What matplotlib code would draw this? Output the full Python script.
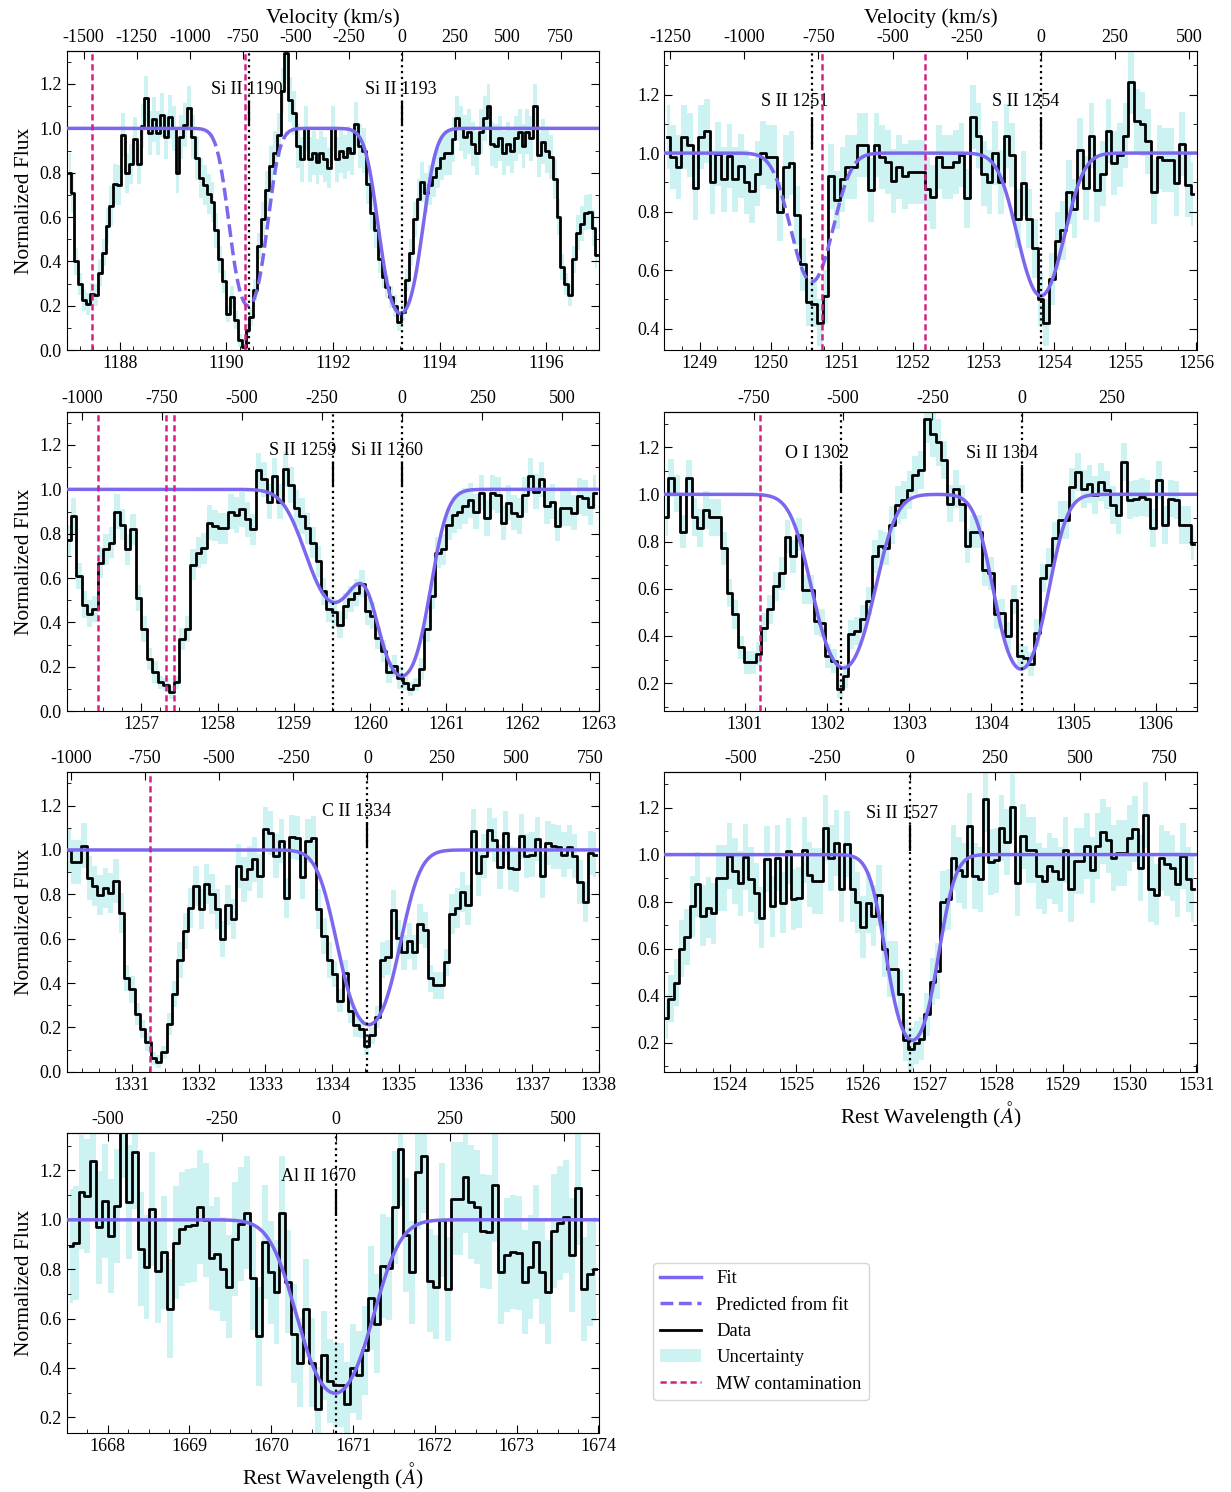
import numpy as np
import matplotlib
matplotlib.use("Agg")
import matplotlib.pyplot as plt
from matplotlib.ticker import MultipleLocator
from matplotlib.lines import Line2D
from matplotlib.patches import Patch

C_KMS = 299792.458

# ---------------------------------------------------------------------------
# values (flux normalised, errors in hundredths)
# ---------------------------------------------------------------------------

# panel 1 : Si II 1190 / 1193
si1193_range = (1187.0, 1197.0)
si1193_flux = [0.80, 0.71, 0.40, 0.30, 0.225, 0.21, 0.255, 0.25, 0.35, 0.44,
               0.56, 0.65, 0.75, 0.745, 0.97, 0.80, 0.84, 0.95, 0.84, 1.01,
               1.135, 0.98, 1.04, 0.98, 1.06, 0.96, 1.05, 1.00, 0.80, 0.96,
               1.015, 1.09, 0.96, 0.865, 0.775, 0.745, 0.705, 0.67, 0.54, 0.41,
               0.31, 0.165, 0.24, 0.135, 0.045, 0.015, 0.09, 0.15, 0.27, 0.47,
               0.59, 0.72, 0.83, 0.89, 0.97, 1.17, 1.34, 1.13, 1.07, 0.92,
               0.86, 1.00, 0.86, 0.89, 0.85, 0.89, 0.86, 0.82, 1.00, 0.86,
               0.90, 0.87, 0.91, 0.89, 1.02, 0.92, 0.90, 0.75, 0.62, 0.54,
               0.41, 0.33, 0.285, 0.24, 0.20, 0.125, 0.17, 0.315, 0.44, 0.59,
               0.68, 0.76, 0.71, 0.745, 0.78, 0.82, 0.865, 0.89, 0.89, 0.95,
               1.045, 1.00, 0.96, 0.985, 0.93, 0.89, 0.985, 1.045, 1.10, 0.93,
               0.92, 0.955, 0.89, 0.93, 0.90, 0.955, 0.985, 0.92, 0.985, 0.955,
               1.10, 0.88, 0.94, 0.90, 0.87, 0.77, 0.60, 0.375, 0.30, 0.25,
               0.41, 0.53, 0.57, 0.62, 0.625, 0.55, 0.43]
si1193_err = [9, 9, 6, 5, 5, 5, 5, 5, 6, 6, 8, 9, 9, 9, 10, 9, 9, 10, 9, 10,
              10, 10, 10, 10, 10, 10, 10, 10, 9, 10, 10, 10, 10, 10, 9, 9, 9, 9, 8, 6,
              5, 4, 5, 4, 3, 3, 3, 4, 5, 6, 8, 9, 9, 10, 10, 10, 12, 10, 10, 10,
              10, 10, 10, 10, 10, 10, 10, 9, 10, 10, 10, 10, 10, 10, 10, 10, 10, 9, 8, 8,
              6, 5, 5, 5, 5, 4, 4, 5, 6, 8, 9, 9, 9, 9, 9, 9, 10, 10, 10, 10,
              10, 10, 10, 10, 10, 10, 10, 10, 10, 10, 10, 10, 10, 10, 10, 10, 10, 10, 10, 10,
              10, 10, 10, 10, 10, 9, 8, 6, 5, 5, 6, 8, 8, 8, 8, 8, 6]
si1193_lines = [1190.4158, 1193.2897]
si1193_names = ["Si II 1190", "Si II 1193"]
si1193_mw = [1187.47, 1190.34]
si1193_fit_center = [1190.41, 1193.27]
si1193_fit_tau = [1.61, 1.80]
si1193_fit_sigma = [0.25, 0.28]

# panel 2 : S II 1251 / 1254
s1254_range = (1248.5, 1256.0)
s1254_flux = [1.056, 0.987, 0.953, 1.056, 1.027, 0.88, 1.056, 1.075, 0.90, 0.997,
              0.91, 0.99, 0.91, 0.955, 0.90, 0.87, 0.93, 1.0, 0.987, 0.987,
              0.80, 0.953, 0.965, 0.787, 0.62, 0.49, 0.485, 0.42, 0.51, 0.92,
              0.84, 0.91, 0.953, 0.953, 1.027, 1.027, 0.873, 1.027, 0.987, 0.97,
              0.904, 0.953, 0.92, 0.936, 0.936, 0.936, 0.877,
              0.85, 0.987, 0.953, 0.953, 0.97, 0.993, 0.845, 1.124, 1.06, 0.93,
              0.90, 1.0, 0.90, 1.059, 0.993, 0.776, 0.896, 0.776, 0.674, 0.50,
              0.42, 0.57, 0.70, 0.736, 0.868, 0.81, 1.01, 0.88, 1.06, 0.873,
              0.93, 1.075, 0.965, 0.993, 1.06, 1.244, 1.11, 1.10, 1.04, 0.868,
              0.987, 0.976, 0.976, 0.896, 1.03, 0.89, 0.86]
s1254_err = [11, 11, 11, 11, 11, 11, 11, 11, 11, 11, 11, 11, 11, 11, 11, 11, 11, 11, 11, 11,
             10, 11, 11, 10, 9, 8, 8, 8, 9, 11, 10, 11, 11, 11, 11, 11, 11, 11, 11, 11,
             11, 11, 11, 11, 11, 11, 11,
             11, 11, 11, 11, 11, 11, 10, 11, 11, 11, 11, 11, 11, 11, 11, 10, 11, 10, 10, 9,
             8, 9, 10, 10, 11, 10, 11, 11, 11, 11, 11, 11, 11, 11, 11, 11, 11, 11, 11, 11,
             11, 11, 11, 11, 11, 11, 11]
s1254_lines = [1250.578, 1253.811]
s1254_names = ["S II 1251", "S II 1254"]
s1254_mw = [1250.73, 1252.17]
s1254_fit_center = [1250.58, 1253.81]
s1254_fit_tau = [0.58, 0.67]
s1254_fit_sigma = [0.26, 0.28]

# panel 3 : S II 1259 / Si II 1260
si1260_range = (1256.0, 1263.0)
si1260_flux = [0.77, 0.88, 0.61, 0.48, 0.44, 0.46, 0.67, 0.73, 0.76, 0.90,
               0.84, 0.73, 0.82, 0.51, 0.37, 0.235, 0.175, 0.13, 0.12, 0.085,
               0.13, 0.325, 0.37, 0.66, 0.715, 0.735, 0.85, 0.835, 0.825, 0.825,
               0.90, 0.885, 0.91, 0.865, 0.82, 1.085, 1.045, 0.945, 1.06, 0.945,
               1.09, 1.02, 0.915, 0.88, 0.825, 0.76, 0.675, 0.54, 0.46, 0.445,
               0.39, 0.475, 0.505, 0.535, 0.575, 0.45, 0.43, 0.33, 0.27, 0.175,
               0.205, 0.15, 0.127, 0.10, 0.12, 0.19, 0.37, 0.52, 0.715, 0.73,
               0.84, 0.885, 0.90, 0.925, 0.95, 0.90, 0.985, 0.87, 0.985, 0.975,
               0.85, 0.94, 0.895, 0.88, 0.975, 1.06, 0.99, 1.045, 0.925, 0.945,
               0.835, 0.915, 0.915, 0.895, 0.97, 0.96, 0.92, 0.985]
si1260_err = [7, 8, 6, 6, 6, 6, 7, 7, 7, 8, 7, 7, 7, 6, 6, 5, 5, 3, 3, 3,
              3, 5, 6, 7, 7, 7, 8, 7, 7, 7, 8, 8, 8, 8, 7, 8, 8, 8, 8, 8,
              8, 8, 8, 8, 7, 7, 7, 6, 6, 6, 6, 6, 6, 6, 6, 6, 6, 5, 5, 5,
              5, 5, 3, 3, 3, 5, 6, 6, 7, 7, 7, 8, 8, 8, 8, 8, 8, 8, 8, 8,
              8, 8, 8, 8, 8, 8, 8, 8, 8, 8, 7, 8, 8, 8, 8, 8, 8, 8]
si1260_lines = [1259.519, 1260.4221]
si1260_names = ["S II 1259", "Si II 1260"]
si1260_mw = [1256.43, 1257.32, 1257.43]
si1260_fit_center = [1259.53, 1260.42]
si1260_fit_tau = [0.71, 1.83]
si1260_fit_sigma = [0.31, 0.25]

# panel 4 : O I 1302 / Si II 1304
si1304_range = (1300.0, 1306.5)
si1304_flux = [0.905, 1.069, 1.003, 0.842, 1.067, 0.905, 0.856, 0.933, 0.902, 0.902,
               0.772, 0.582, 0.491, 0.351, 0.288, 0.288, 0.323, 0.435, 0.512, 0.61,
               0.666, 0.821, 0.737, 0.828, 0.596, 0.596, 0.463, 0.456, 0.315, 0.294,
               0.175, 0.231, 0.406, 0.42, 0.47, 0.547, 0.737, 0.779, 0.772, 0.87,
               0.954, 0.975, 1.017, 1.081, 1.102, 1.319, 1.256, 1.221, 1.144, 0.961,
               1.024, 0.961, 0.781, 0.842, 0.842, 0.68, 0.666, 0.491, 0.498, 0.40,
               0.554, 0.315, 0.308, 0.28, 0.413, 0.645, 0.701, 0.814, 0.891, 0.891,
               1.031, 1.095, 1.024, 1.045, 0.996, 1.053, 1.017, 0.954, 0.912, 1.137,
               0.975, 0.982, 0.989, 0.982, 0.856, 1.06, 0.87, 0.982, 0.975, 0.87,
               0.87, 0.79]
si1304_err = [8, 8, 8, 7, 8, 8, 8, 8, 8, 8, 7, 6, 6, 5, 5, 5, 5, 6, 6, 6,
              7, 7, 7, 7, 6, 6, 6, 6, 5, 5, 4, 5, 6, 6, 6, 6, 7, 7, 7, 8,
              8, 8, 8, 8, 8, 10, 10, 10, 8, 8, 8, 8, 7, 7, 7, 7, 7, 6, 6, 6,
              6, 5, 5, 5, 6, 6, 7, 7, 8, 8, 8, 8, 8, 8, 8, 8, 8, 8, 8, 8,
              8, 8, 8, 8, 8, 8, 8, 8, 8, 8, 8, 7]
si1304_lines = [1302.1685, 1304.3702]
si1304_names = ["O I 1302", "Si II 1304"]
si1304_mw = [1301.18]
si1304_fit_center = [1302.20, 1304.36]
si1304_fit_tau = [1.33, 1.35]
si1304_fit_sigma = [0.28, 0.245]

# panel 5 : C II 1334
c1334_range = (1330.0, 1338.0)
c1334_flux = [1.0, 0.945, 0.945, 1.02, 0.874, 0.837, 0.797, 0.83, 0.804, 0.86,
              0.714, 0.423, 0.371, 0.259, 0.194, 0.135, 0.06, 0.045, 0.087, 0.217,
              0.351, 0.505, 0.635, 0.74, 0.837, 0.735, 0.845, 0.80, 0.732, 0.598,
              0.75, 0.69, 0.927, 0.867, 0.916, 0.957, 0.882, 1.094, 1.076, 0.972,
              1.039, 0.785, 1.057, 1.054, 0.877, 1.039, 1.054, 0.735, 0.613, 0.505,
              0.441, 0.321, 0.444, 0.272, 0.209, 0.194, 0.117, 0.164, 0.247, 0.505,
              0.516, 0.729, 0.605, 0.538, 0.59, 0.538, 0.665, 0.64, 0.421, 0.389,
              0.389, 0.493, 0.71, 0.74, 0.81, 0.75, 1.084, 0.894, 0.972, 1.088,
              1.046, 0.924, 1.076, 0.919, 0.912, 1.061, 0.972, 0.979, 1.049, 0.882,
              1.031, 1.016, 1.013, 0.979, 1.013, 0.972, 0.855, 0.765, 0.987, 0.979]
c1334_err = [10, 10, 10, 10, 10, 9, 9, 9, 9, 10, 9, 6, 6, 5, 4, 4, 3, 3, 3, 5,
             6, 8, 8, 9, 9, 9, 9, 9, 9, 8, 9, 9, 10, 10, 10, 10, 10, 10, 10, 10,
             10, 9, 10, 10, 10, 10, 10, 9, 8, 8, 6, 5, 6, 5, 5, 4, 4, 4, 5, 8,
             8, 9, 8, 8, 8, 8, 9, 8, 6, 6, 6, 6, 9, 9, 9, 9, 10, 10, 10, 10,
             10, 10, 10, 10, 10, 10, 10, 10, 10, 10, 10, 10, 10, 10, 10, 10, 10, 9, 10, 10]
c1334_lines = [1334.5323]
c1334_names = ["C II 1334"]
c1334_mw = [1331.27]
c1334_fit_center = [1334.55]
c1334_fit_tau = [1.55]
c1334_fit_sigma = [0.33]

# panel 6 : Si II 1527
si1527_range = (1523.0, 1531.0)
si1527_flux = [0.304, 0.386, 0.454, 0.60, 0.65, 0.78, 0.873, 0.739, 0.774, 0.75,
               0.90, 0.90, 0.993, 0.929, 0.877, 0.99, 0.894, 0.835, 0.732, 0.98,
               0.78, 0.986, 0.795, 1.014, 0.809, 0.816, 1.021, 0.915, 0.887, 0.887,
               1.113, 0.986, 1.049, 0.852, 1.045, 0.852, 0.798, 0.692, 0.795, 0.739,
               0.826, 0.598, 0.513, 0.513, 0.407, 0.21, 0.175, 0.20, 0.217, 0.32,
               0.46, 0.506, 0.80, 0.81, 0.986, 0.936, 0.908, 1.122, 0.908, 0.894,
               1.235, 0.967, 0.975, 1.113, 1.052, 1.204, 0.877, 1.077, 1.021, 1.021,
               0.908, 0.887, 0.95, 0.929, 0.894, 1.021, 0.852, 0.972, 0.972, 1.038,
               0.936, 1.035, 1.098, 1.063, 0.986, 1.007, 1.007, 1.07, 1.108, 0.943,
               1.169, 0.852, 0.83, 0.986, 0.962, 0.943, 0.873, 0.995, 0.894, 0.852]
si1527_err = [9, 10, 10, 12, 12, 13, 14, 13, 13, 13, 14, 14, 14, 14, 14, 14, 14, 13, 13, 14,
              13, 14, 13, 14, 13, 13, 14, 14, 14, 14, 14, 14, 14, 14, 14, 14, 13, 13, 13, 13,
              13, 12, 12, 12, 10, 9, 9, 9, 9, 9, 10, 12, 13, 13, 14, 14, 14, 14, 14, 14,
              14, 14, 14, 14, 14, 14, 14, 14, 14, 14, 14, 14, 14, 14, 14, 14, 14, 14, 14, 14,
              14, 14, 14, 14, 14, 14, 14, 14, 14, 14, 14, 14, 13, 14, 14, 14, 14, 14, 14, 14]
si1527_lines = [1526.7066]
si1527_names = ["Si II 1527"]
si1527_mw = []
si1527_fit_center = [1526.74]
si1527_fit_tau = [1.56]
si1527_fit_sigma = [0.275]

# panel 7 : Al II 1670
al1670_range = (1667.5, 1674.0)
al1670_flux = [0.895, 0.906, 1.113, 1.097, 1.238, 0.969, 1.076, 0.935, 1.056, 1.40,
               1.072, 1.274, 0.881, 0.808, 1.045, 0.794, 0.868, 0.64, 0.908, 0.962,
               0.976, 0.978, 1.053, 1.0, 0.844, 0.861, 0.80, 0.73, 0.922, 0.982,
               1.029, 0.763, 0.529, 0.911, 0.787, 0.709, 1.029, 0.75, 0.539, 0.422,
               0.64, 0.422, 0.234, 0.451, 0.347, 0.33, 0.33, 0.256, 0.40, 0.371,
               0.472, 0.683, 0.579, 0.814, 0.803, 1.05, 1.285, 0.938, 0.787, 1.193,
               1.258, 0.754, 0.727, 1.0, 0.72, 1.086, 1.086, 1.175, 1.072, 1.053,
               0.955, 0.951, 1.14, 0.79, 0.857, 0.871, 0.865, 0.747, 0.808, 0.911,
               0.79, 0.707, 0.955, 0.986, 1.013, 0.857, 1.13, 0.72, 0.78, 0.80]
al1670_err = [23, 23, 23, 23, 23, 23, 23, 23, 23, 23, 23, 23, 23, 21, 23, 21, 23, 20, 23, 23,
              23, 23, 23, 23, 21, 23, 21, 21, 23, 23, 23, 21, 20, 23, 21, 21, 23, 21, 20, 18,
              20, 18, 17, 18, 17, 17, 17, 17, 18, 18, 18, 21, 20, 21, 21, 23, 23, 23, 21, 23,
              23, 21, 21, 23, 21, 23, 23, 23, 23, 23, 23, 23, 23, 21, 23, 23, 23, 21, 21, 23,
              21, 21, 23, 23, 23, 23, 23, 21, 21, 21]
al1670_lines = [1670.7874]
al1670_names = ["Al II 1670"]
al1670_mw = []
al1670_fit_center = [1670.78]
al1670_fit_tau = [1.21]
al1670_fit_sigma = [0.35]

# ---------------------------------------------------------------------------
# layout / style
# ---------------------------------------------------------------------------
FIT_COLOR = "#7B68EE"
MW_COLOR = "#D42083"
ERR_COLOR = "c"

plt.rcParams["font.family"] = "serif"
plt.rcParams["font.serif"] = ["Liberation Serif", "DejaVu Serif"]
plt.rcParams["mathtext.fontset"] = "stix"
plt.rcParams["axes.unicode_minus"] = False
plt.rcParams["axes.formatter.useoffset"] = False

W, H = 1231.0, 1492.0
col_left = [66.7 / W, 664.3 / W]
ax_w = 532.6 / W
ax_h = 299.5 / H
row_top = [50.7, 411.7, 772.3, 1133.3]

panels = [
    dict(flux=si1193_flux, err=si1193_err, rng=si1193_range, xlim=(1187.0, 1197.0),
         ylim=(0.0, 1.35), v0=1193.2897, major=2, lines=si1193_lines, names=si1193_names,
         label_x=[1190.38, 1193.27], mw=si1193_mw,
         fit=(si1193_fit_center, si1193_fit_tau, si1193_fit_sigma), pred=(1189.70, 1191.15)),
    dict(flux=s1254_flux, err=s1254_err, rng=s1254_range, xlim=(1248.5, 1256.01),
         ylim=(0.326, 1.35), v0=1253.811, major=1, lines=s1254_lines, names=s1254_names,
         label_x=[1250.34, 1253.59], mw=s1254_mw,
         fit=(s1254_fit_center, s1254_fit_tau, s1254_fit_sigma), pred=(1249.95, 1251.30)),
    dict(flux=si1260_flux, err=si1260_err, rng=si1260_range, xlim=(1256.02, 1263.01),
         ylim=(0.0, 1.35), v0=1260.4221, major=1, lines=si1260_lines, names=si1260_names,
         label_x=[1259.12, 1260.22], mw=si1260_mw,
         fit=(si1260_fit_center, si1260_fit_tau, si1260_fit_sigma), pred=None),
    dict(flux=si1304_flux, err=si1304_err, rng=si1304_range, xlim=(1300.02, 1306.5),
         ylim=(0.081, 1.35), v0=1304.3702, major=1, lines=si1304_lines, names=si1304_names,
         label_x=[1301.88, 1304.13], mw=si1304_mw,
         fit=(si1304_fit_center, si1304_fit_tau, si1304_fit_sigma), pred=None),
    dict(flux=c1334_flux, err=c1334_err, rng=c1334_range, xlim=(1330.02, 1338.01),
         ylim=(0.0, 1.35), v0=1334.5323, major=1, lines=c1334_lines, names=c1334_names,
         label_x=[1334.37], mw=c1334_mw,
         fit=(c1334_fit_center, c1334_fit_tau, c1334_fit_sigma), pred=None),
    dict(flux=si1527_flux, err=si1527_err, rng=si1527_range, xlim=(1523.02, 1531.01),
         ylim=(0.076, 1.35), v0=1526.7066, major=1, lines=si1527_lines, names=si1527_names,
         label_x=[1526.59], mw=si1527_mw,
         fit=(si1527_fit_center, si1527_fit_tau, si1527_fit_sigma), pred=None),
    dict(flux=al1670_flux, err=al1670_err, rng=al1670_range, xlim=(1667.5, 1674.01),
         ylim=(0.138, 1.35), v0=1670.7874, major=1, lines=al1670_lines, names=al1670_names,
         label_x=[1670.58], mw=al1670_mw,
         fit=(al1670_fit_center, al1670_fit_tau, al1670_fit_sigma), pred=None),
]


def line_model(w, centers, taus, sigmas):
    tau = np.zeros_like(w)
    for c, t, s in zip(centers, taus, sigmas):
        tau += t * np.exp(-0.5 * ((w - c) / s) ** 2)
    return np.exp(-tau)


fig = plt.figure(figsize=(W / 100, H / 100), dpi=100)

for k, p in enumerate(panels):
    row, col = divmod(k, 2)
    ax = fig.add_axes([col_left[col], 1 - (row_top[row] + 299.5) / H, ax_w, ax_h])

    flux = np.array(p["flux"], float)
    err = np.array(p["err"], float) / 100.0
    lo, hi = p["rng"]
    n = len(flux)
    wave = lo + (np.arange(n) + 0.5) * (hi - lo) / n

    ax.fill_between(wave, flux - err, flux + err, step="mid", color=ERR_COLOR,
                    alpha=0.2, lw=0, zorder=1)
    ax.plot(wave, flux, drawstyle="steps-mid", color="k", lw=2, zorder=2)

    wf = np.linspace(lo, hi, 2000)
    model = line_model(wf, *p["fit"])
    if p["pred"] is not None:
        inside = (wf >= p["pred"][0]) & (wf <= p["pred"][1])
        ax.plot(wf, np.where(inside, np.nan, model), color=FIT_COLOR, lw=2.5, zorder=3)
        ax.plot(wf[inside], model[inside], color=FIT_COLOR, lw=2.5, ls="--", zorder=3)
    else:
        ax.plot(wf, model, color=FIT_COLOR, lw=2.5, zorder=3)

    for w in p["lines"]:
        ax.axvline(w, color="k", ls=":", lw=1.6, zorder=4)
    for w in p["mw"]:
        ax.axvline(w, color=MW_COLOR, ls=(0, (2.5, 1.5)), lw=1.8, zorder=5)
    ax.vlines(p["lines"], 1.015, 1.125, color="k", lw=1.6, zorder=4)
    for x, name in zip(p["label_x"], p["names"]):
        ax.text(x, 1.175, name, ha="center", va="center", fontsize=13)

    ax.set_xlim(*p["xlim"])
    ax.set_ylim(*p["ylim"])
    ax.xaxis.set_major_locator(MultipleLocator(p["major"]))
    ax.xaxis.set_minor_locator(MultipleLocator(0.25))
    ax.yaxis.set_major_locator(MultipleLocator(0.2))
    ax.yaxis.set_minor_locator(MultipleLocator(0.1))
    ax.tick_params(which="both", direction="in", top=False, right=True, labelsize=13)
    ax.tick_params(which="major", length=6)
    ax.tick_params(which="minor", length=3)

    # top axis: velocity relative to the reference transition
    w0 = p["v0"]
    to_vel = lambda w, w0=w0: (np.asarray(w) / w0 - 1.0) * C_KMS
    to_wav = lambda v, w0=w0: w0 * (1.0 + np.asarray(v) / C_KMS)
    sec = ax.secondary_xaxis("top", functions=(to_vel, to_wav))
    vmin, vmax = to_vel(p["xlim"][0]), to_vel(p["xlim"][1])
    vticks = np.arange(np.ceil(vmin / 250.0) * 250.0, vmax, 250.0)
    sec.set_xticks(vticks, [f"{v:.0f}" for v in vticks])
    sec.tick_params(direction="in", length=6, labelsize=13)

    if row == 0:
        sec.set_xlabel("Velocity (km/s)", fontsize=15.5)
    if col == 0:
        ax.set_ylabel("Normalized Flux", fontsize=15.5)
    if k in (5, 6):
        ax.set_xlabel(r"Rest Wavelength ($\AA$)", fontsize=15.5)

handles = [Line2D([], [], color=FIT_COLOR, lw=2.5),
           Line2D([], [], color=FIT_COLOR, lw=2.5, ls="--"),
           Line2D([], [], color="k", lw=2),
           Patch(facecolor=ERR_COLOR, alpha=0.2, edgecolor="none"),
           Line2D([], [], color=MW_COLOR, lw=1.8, ls=(0, (2.5, 1.5)))]
labels = ["Fit", "Predicted from fit", "Data", "Uncertainty", "MW contamination"]
fig.legend(handles, labels, loc="upper left", bbox_to_anchor=(653 / W, 1 - 1263 / H),
           borderaxespad=0, fontsize=13.4, handlelength=2.2)

fig.savefig("out.png", dpi=100)
